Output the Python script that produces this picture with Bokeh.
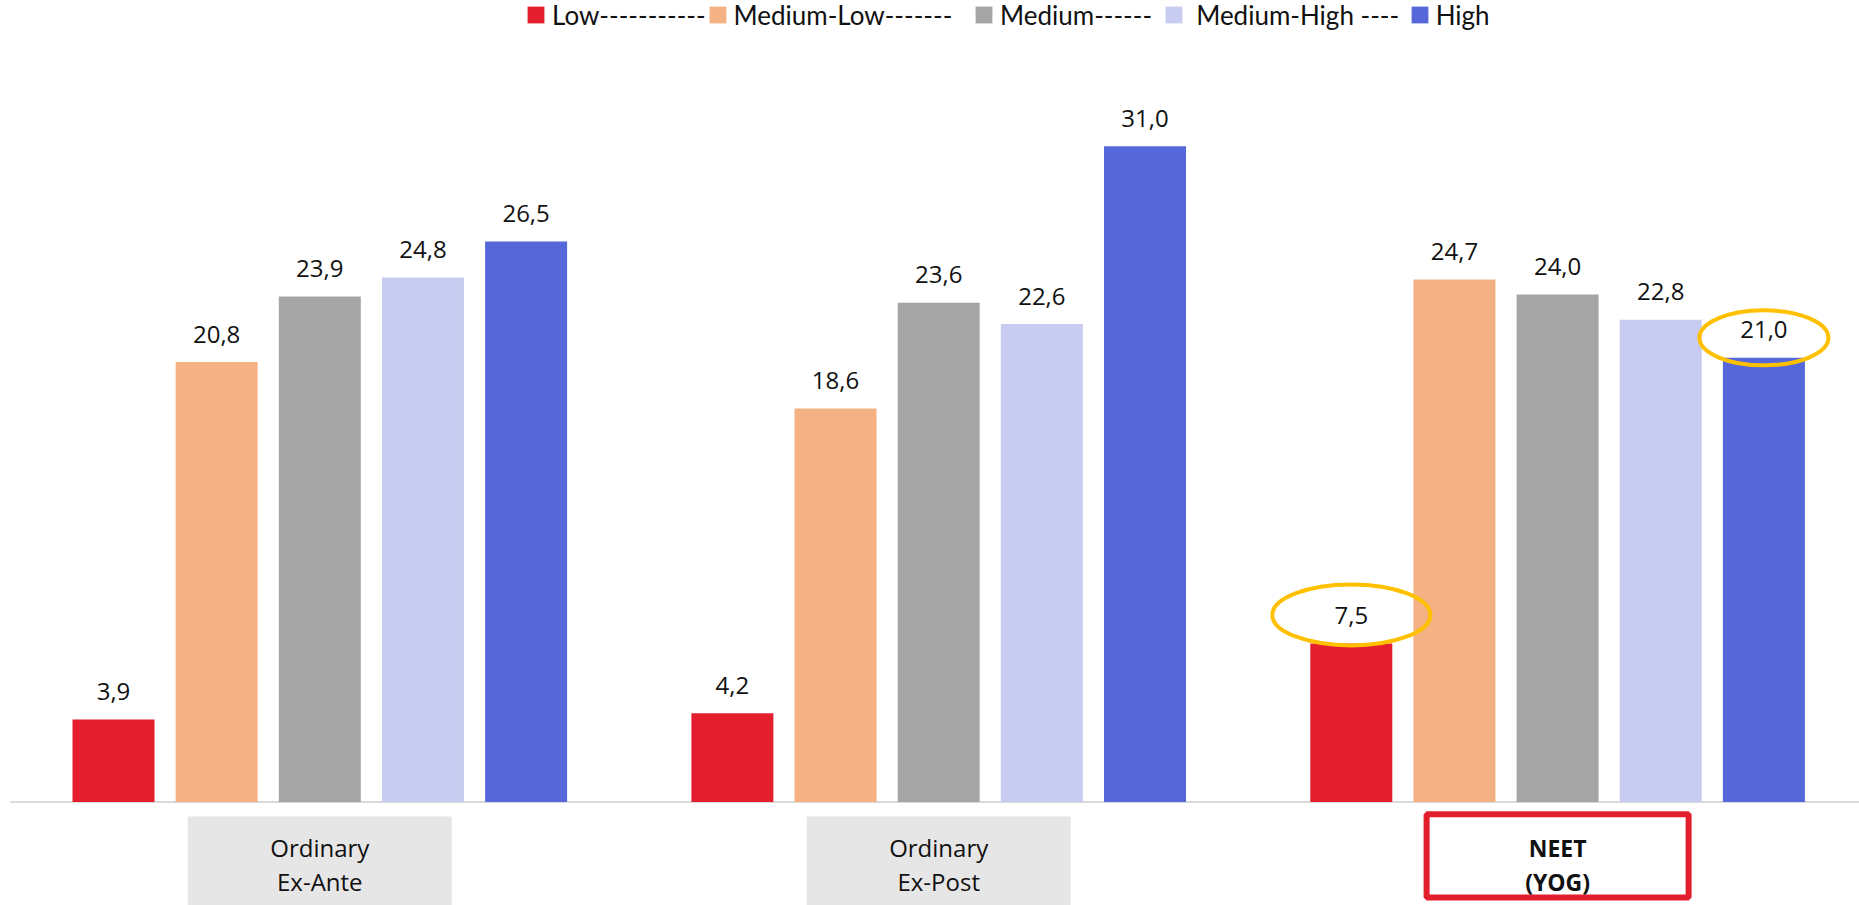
from bokeh.plotting import figure
from bokeh.models import Range1d, Legend, LegendItem, ColumnDataSource
from bokeh.core.properties import value
from bokeh.embed import file_html
from bokeh.resources import INLINE

# ---- data ----
categories = ["Ordinary Ex-Ante", "Ordinary Ex-Post", "NEET (YOG)"]
category_lines = [["Ordinary", "Ex-Ante"], ["Ordinary", "Ex-Post"], ["NEET", "(YOG)"]]
series = ["Low", "Medium-Low", "Medium", "Medium-High", "High"]
legend_labels = ["Low-----------", "Medium-Low-------", "Medium------", " Medium-High ----", "High"]
low = [3.9, 4.2, 7.5]
medium_low = [20.8, 18.6, 24.7]
medium = [23.9, 23.6, 24.0]
medium_high = [24.8, 22.6, 22.8]
high = [26.5, 31.0, 21.0]
values = [low, medium_low, medium, medium_high, high]
colors = ["#E31E2D", "#F4B183", "#A5A5A5", "#C7CCF0", "#5567D9"]
highlight_group = 2           # the NEET group is emphasised
highlight_series = [0, 4]     # Low and High circled

# ---- layout constants (pixels) ----
W, H = 1859, 905
PXX, PXY = 103.15, 21.15
X0PX, BASE = 113.0, 801.5
GROUP_STEP = 6

p = figure(width=W, height=H, output_backend="svg", toolbar_location=None,
           x_range=Range1d(-X0PX / PXX, (W - X0PX) / PXX),
           y_range=Range1d(-(H - BASE) / PXY, BASE / PXY),
           x_axis_location=None, y_axis_location=None,
           min_border=0, min_border_left=0, min_border_right=0,
           min_border_top=0, min_border_bottom=0)
p.outline_line_color = None
p.xgrid.visible = False
p.ygrid.visible = False
p.background_fill_color = "white"
p.border_fill_color = "white"

# baseline
p.segment(x0=[-1.0], y0=[0], x1=[(W - X0PX) / PXX], y1=[0], line_color="#D9D9D9", line_width=2)

renderers = []
for k, (name, vals, col) in enumerate(zip(series, values, colors)):
    xs = [g * GROUP_STEP + k for g in range(len(categories))]
    src = ColumnDataSource(dict(x=xs, top=vals,
                                lab=[f"{v:.1f}".replace(".", ",") for v in vals]))
    r = p.vbar(x="x", top="top", bottom=0, width=82 / PXX, source=src,
               fill_color=col, line_color=None)
    renderers.append(r)
    p.text(x="x", y="top", text="lab", source=src, y_offset=-28,
           text_align="center", text_baseline="middle",
           text_font=value("Open Sans"), text_font_size="24px", text_color="#111111")

# category boxes below the axis
box_w = 2.56
for g, lines in enumerate(category_lines):
    cx = g * GROUP_STEP + 2
    if g == highlight_group:
        p.rect(x=[cx], y=[-2.55], width=2.54, height=3.94, fill_color=None,
               line_color="#E31E2D", line_width=6)
        style, size = "bold", "23px"
    else:
        p.quad(left=[cx - box_w / 2], right=[cx + box_w / 2], top=[-0.69], bottom=[-6],
               fill_color="#E6E6E6", line_color=None)
        style, size = "normal", "24px"
    p.text(x=[cx, cx], y=[-(847 - BASE) / PXY, -(881 - BASE) / PXY], text=lines,
           text_align="center", text_baseline="middle", text_font_style=style,
           text_font=value("Open Sans"), text_font_size=size, text_color="#111111")

# highlight ellipses
ell_offsets_px = [28.5, 20.0]
ell_w_px = [158, 129]
ell_h_px = [61, 55]
for s, off, ew, eh in zip(highlight_series, ell_offsets_px, ell_w_px, ell_h_px):
    v = values[s][highlight_group]
    p.ellipse(x=[highlight_group * GROUP_STEP + s], y=[v + off / PXY],
              width=ew / PXX, height=eh / PXY, fill_color=None,
              line_color="#FFC000", line_width=4)

# legend: one entry per series, placed along the top
legend_x = [525, 706.5, 973, 1162.5, 1408.7]
for r, lab, lx in zip(renderers, legend_labels, legend_x):
    lg = Legend(items=[LegendItem(label=lab, renderers=[r])], location=(lx, H - 30.5),
                orientation="horizontal", padding=0, margin=0, spacing=0,
                glyph_width=21, glyph_height=21, label_standoff=6, label_height=21,
                label_text_font="Lato", label_text_font_size="26px",
                label_text_color="#111111", border_line_color=None,
                background_fill_alpha=0)
    p.add_layout(lg, "center")

open("out.html", "w").write(file_html(p, INLINE))
